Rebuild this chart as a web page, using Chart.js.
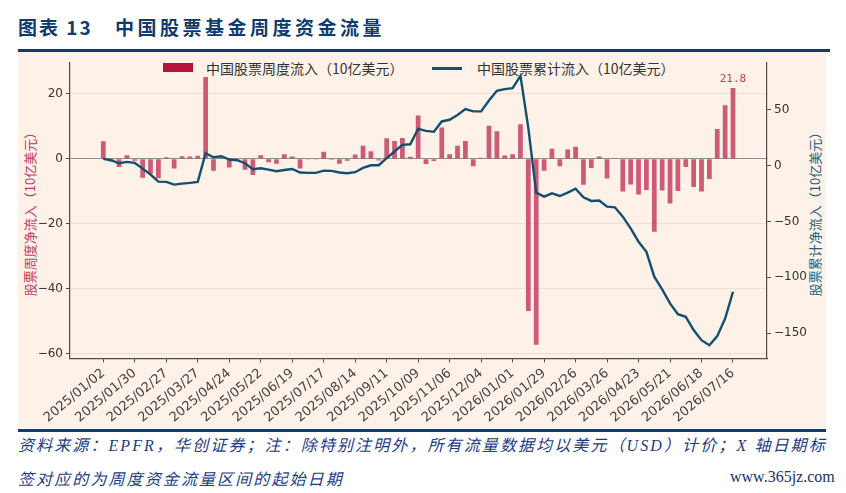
<!DOCTYPE html>
<html>
<head>
<meta charset="utf-8">
<script src="https://cdn.jsdelivr.net/npm/chart.js@4.4.0/dist/chart.umd.min.js"></script>
<style>
  html, body { margin:0; padding:0; background:#fff; }
  #page { position:relative; width:846px; height:493px; overflow:hidden; font-family:"Noto Sans CJK SC", sans-serif; }
  .abs { position:absolute; white-space:nowrap; }
  #bg { left:18px; top:52px; width:808px; height:376px; background:#fdf1e8; }
  #topline { left:18px; top:49px; width:812px; height:2.5px; background:#0f3b6e; }
  #botline { left:18px; top:429px; width:808px; height:2.5px; background:#0f3b6e; }
  .ttl { top:13px; font-size:19px; font-weight:700; color:#0f3b6e; letter-spacing:2px; }
  .leg { top:59px; font-size:14px; color:#333; line-height:18px; }
  .axt { font-size:13px; line-height:16px; transform:translate(-50%,-50%) rotate(-90deg); }
  .foot { font-family:"Liberation Serif","Noto Sans CJK SC",serif; font-style:italic; font-size:16px; color:#1c3c86; letter-spacing:2.1px; }
  canvas { position:absolute; left:0; top:0; }
</style>
</head>
<body>
<div id="page">
  <div class="abs" id="bg"></div>
  <div class="abs" id="topline"></div>
  <div class="abs" id="botline"></div>
  <div class="abs ttl" style="left:18px">图表 13</div>
  <div class="abs ttl" style="left:115px;letter-spacing:3.5px">中国股票基金周度资金流量</div>

  <div class="abs" style="left:163px;top:63px;width:30px;height:9px;background:#b5123f"></div>
  <div class="abs leg" style="left:206px">中国股票周度流入（10亿美元）</div>
  <div class="abs" style="left:432px;top:67px;width:30px;height:2.5px;background:#13506f"></div>
  <div class="abs leg" style="left:477px">中国股票累计流入（10亿美元）</div>

  <div class="abs axt" style="left:30px;top:211px;color:#c23b5e">股票周度净流入（10亿美元）</div>
  <div class="abs axt" style="left:815px;top:211px;color:#1f5f80">股票累计净流入（10亿美元）</div>

  <div class="abs foot" style="left:18px;top:432px">资料来源：EPFR，华创证券；注：除特别注明外，所有流量数据均以美元（USD）计价；X 轴日期标</div>
  <div class="abs foot" style="left:18px;top:466px">签对应的为周度资金流量区间的起始日期</div>
  <div class="abs" style="left:730px;top:468px;font-family:'Liberation Serif',serif;font-size:16px;color:#17306b">www.365jz.com</div>

  <canvas id="flowChart" width="846" height="493"></canvas>
</div>
<script>
// x tick labels, one every 4 weeks
const tickLabels = ['2025/01/02','2025/01/30','2025/02/27','2025/03/27','2025/04/24','2025/05/22',
  '2025/06/19','2025/07/17','2025/08/14','2025/09/11','2025/10/09','2025/11/06','2025/12/04',
  '2026/01/01','2026/01/29','2026/02/26','2026/03/26','2026/04/23','2026/05/21','2026/06/18','2026/07/16']

// weekly flow, USD bn (81 weeks, starting 2025/01/02)
const weeklyFlow = [5.4,-0.8,-2.5,1.1,-0.6,-5.8,-4.6,-6.0,0.5,-3.0,
  0.8,0.7,0.9,25.2,-3.7,0.3,-2.7,-0.5,-3.4,-5.0,
  1.1,-1.1,-1.5,1.4,0.7,-3.0,-0.1,-0.2,2.2,-0.3,
  -1.5,-0.6,1.3,4.0,2.3,-0.5,6.3,5.5,6.4,0.6,
  13.3,-1.6,-0.7,9.6,1.4,4.0,5.5,-2.3,0.3,10.2,
  8.5,1.0,1.4,10.6,-46.9,-57.3,-3.7,3.1,-2.3,2.9,
  3.7,-8.0,-2.8,0.7,-6.1,0.1,-10.1,-7.9,-11.0,-9.6,
  -22.5,-9.8,-13.8,-9.9,-2.5,-8.7,-10.1,-6.2,9.2,16.5,
  21.8]

// cumulative flow, USD bn
const cumFlow = [6.0,4.8,2.1,3.3,2.4,-2.7,-8.0,-14.3,-14.6,-17.0,
  -16.1,-15.5,-14.6,11.1,7.5,8.4,5.4,4.8,2.1,-3.3,
  -2.4,-3.6,-5.0,-3.9,-3.0,-6.2,-6.5,-6.5,-4.5,-4.7,
  -6.2,-6.8,-5.9,-2.1,0.3,0.3,6.6,12.6,18.5,19.1,
  32.9,31.1,30.2,39.5,41.0,45.2,50.5,48.5,48.5,58.3,
  66.9,68.4,69.3,80.4,33.5,-24.2,-27.8,-24.8,-27.2,-24.2,
  -20.6,-28.3,-31.6,-31.3,-36.7,-37.3,-45.7,-56.2,-68.1,-77.1,
  -99.4,-110.8,-123.3,-132.9,-135.3,-147.2,-156.2,-160.7,-152.6,-136.8,
  -112.9]

const leftTicks = [-60,-40,-20,0,20]
const rightTicks = [-150,-100,-50,0,50]

const fmt = v => (v < 0 ? '\u2212' + Math.abs(v) : String(v))

Chart.defaults.font.family = "'DejaVu Sans', sans-serif"
Chart.defaults.font.size = 12
Chart.defaults.color = '#333'

const lastLabel = {
  id:'lastLabel',
  afterDatasetsDraw(chart){
    const meta = chart.getDatasetMeta(0)
    const el = meta.data[meta.data.length-1]
    const ctx = chart.ctx
    ctx.save()
    ctx.font = "11px 'DejaVu Sans Mono', monospace"
    ctx.fillStyle = '#c23b5e'
    ctx.textAlign = 'center'
    ctx.textBaseline = 'bottom'
    ctx.fillText(weeklyFlow[weeklyFlow.length-1].toFixed(1), el.x, el.y - 3)
    ctx.restore()
  }
}

const axisBorder = { display:true, color:'#4d4d4d', width:1.2 }

new Chart(document.getElementById('flowChart'),{
  type:'bar',
  data:{
    datasets:[
      {
        type:'bar',
        label:'中国股票周度流入（10亿美元）',
        data:weeklyFlow.map((v,i)=>({x:i,y:v})),
        backgroundColor:'rgba(181,18,63,0.68)',
        borderWidth:0,
        categoryPercentage:1,
        barPercentage:0.6,
        yAxisID:'y',
        order:1
      },
      {
        type:'line',
        label:'中国股票累计流入（10亿美元）',
        data:cumFlow.map((v,i)=>({x:i,y:v})),
        borderColor:'#13506f',
        borderWidth:2.4,
        pointRadius:0,
        tension:0,
        yAxisID:'y1',
        order:0
      }
    ]
  },
  options:{
    responsive:false,
    animation:false,
    layout:{ padding:{ top:63, left:0, right:0, bottom:0 } },
    plugins:{ legend:{ display:false }, tooltip:{ enabled:false } },
    scales:{
      x:{
        type:'linear',
        offset:false,
        min:-4.23,
        max:84.32,
        afterBuildTicks: s => { s.ticks = tickLabels.map((t,k)=>({value:k*4})) },
        afterFit: s => { s.height = 134.5 },
        ticks:{ autoSkip:false, minRotation:40, maxRotation:40, color:'#444', font:{size:13}, callback:(v,i)=>tickLabels[i] },
        grid:{ drawOnChartArea:false, offset:false, tickLength:4, tickColor:'#4d4d4d' },
        border:axisBorder
      },
      y:{
        position:'left',
        min:-61.5,
        max:29.5,
        afterBuildTicks: s => { s.ticks = leftTicks.map(v=>({value:v})) },
        afterFit: s => { s.width = 70 },
        ticks:{ callback:v=>fmt(v) },
        grid:{ color:c=>(c.tick && c.tick.value===0 ? '#8f8f8f' : '#efdfd4'), tickLength:4, tickColor:'#4d4d4d' },
        border:axisBorder
      },
      y1:{
        position:'right',
        min:-172.6,
        max:91.8,
        afterBuildTicks: s => { s.ticks = rightTicks.map(v=>({value:v})) },
        afterFit: s => { s.width = 79 },
        ticks:{ callback:v=>fmt(v) },
        grid:{ drawOnChartArea:false, tickLength:4, tickColor:'#4d4d4d' },
        border:axisBorder
      }
    }
  },
  plugins:[lastLabel]
})
</script>
</body>
</html>
